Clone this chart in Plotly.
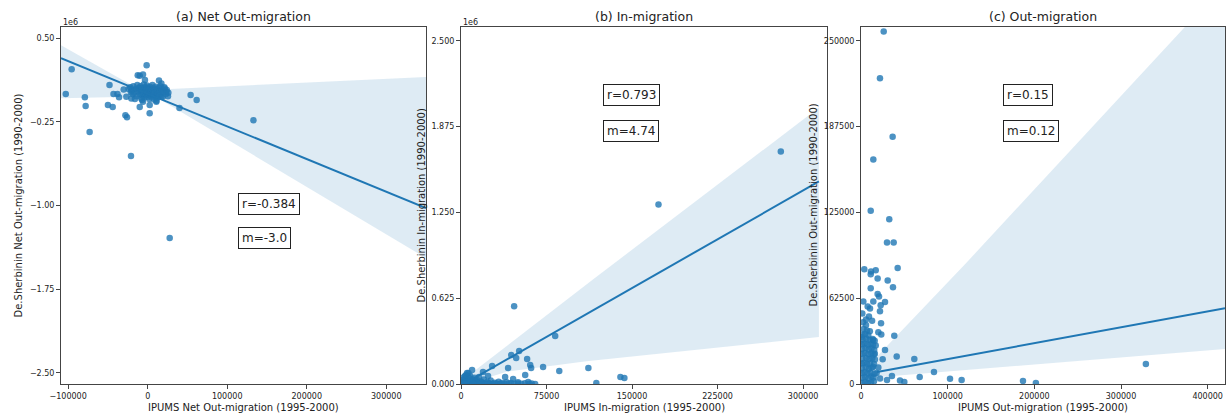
import plotly.graph_objects as go

W, H = 1228, 417
BLUE = '#1f77b4'
FONT = 'DejaVu Sans'
TXT = '#222222'
AX = '#444444'

# ---------------- (a) Net Out-migration ----------------
net_ipums = [
    -103000, -95600, -79000, -78000, -73000, -48000, -50000, -44000, -43000, -38000,
    -36000, -30200, -28000, -26000, -21000, 27700, -12500, -10000, -5900, -1300,
    -3400, -10000, 2500, 2500, 14200, 17200, 21400, 23500, 25500, 40000,
    54000, 61600, 133000, -26800, -20500, -5900, 10900, 17200,
    -22000, -20000, -18000, -17000, -15000, -14000, -13000, -12000, -11000, -10000,
    -10000, -9000, -8000, -8000, -7000, -6000, -6000, -5000, -5000, -4000,
    -4000, -3000, -3000, -2000, -2000, -1000, -1000, 0, 0, 0,
    1000, 1000, 2000, 2000, 3000, 3000, 4000, 4000, 5000, 5000,
    6000, 6000, 7000, 7000, 8000, 8000, 9000, 9000, 10000, 10000,
    11000, 12000, 12000, 13000, 14000, 15000, 15000, 16000, 17000, 18000,
    19000, 20000, 21000, 23000, 24000, -16000, -19000, -21000, -24000, 26000,
    -7000, 11000,
]
net_desherbinin = [
    0, 222000, -29000, -109000, -342000, 79000, -100000, -118000, 0, 0,
    -30000, 40000, -190000, -210000, -557000, -1292000, 168000, 162000, 175000, 258000,
    124000, -118000, -172000, -100000, 121000, 94000, 49000, 19000, -20000, -127000,
    -10000, -55000, -235000, -26000, -40000, -70000, -70000, -26000,
    60000, 30000, 70000, 10000, 45000, -20000, 80000, 25000, 55000, -5000,
    35000, 70000, 10000, -40000, 50000, 25000, -15000, 85000, 0, 40000,
    -30000, 60000, 15000, -10000, 30000, 75000, 45000, 5000, -25000, 20000,
    55000, -5000, 35000, -45000, 10000, 65000, -15000, 25000, 45000, -30000,
    0, 80000, 20000, -10000, 50000, -50000, 30000, 5000, 65000, -20000,
    15000, 40000, -35000, 0, 55000, 25000, -15000, 70000, 5000, 40000,
    -25000, 20000, 60000, 0, 35000, -45000, 0, 15000, 45000, 10000,
    -55000, -60000,
]
net_reg_x = [-109000, 350000]
net_reg_y = [321000, -1023000]
net_ci_upper_x = [-109000, -22600, 21400, 350000]
net_ci_upper_y = [437000, 88000, 43000, 151000]
net_ci_lower_x = [-109000, 8800, 350000]
net_ci_lower_y = [-38000, -20000, -1471000]

# ---------------- (b) In-migration ----------------
in_ipums = [
    280500, 173200, 46600, 82600, 44000, 51000, 48400, 58000, 41300, 60700,
    61500, 72000, 86200, 111700, 56300, 38700, 45700, 139800, 143300, 118700,
    27300, 23700, 19300, 9700, 5300, 15800, 58900, 50000, 8000, 12000,
    3500,
    500, 1000, 1500, 2000, 3000, 3500, 4000, 5000, 5500, 6000,
    7000, 7500, 8500, 9000, 10000, 11000, 12000, 13000, 14000, 15000,
    16500, 17500, 19000, 20000, 21500, 23000, 24500, 26000, 28000, 29500,
    31000, 33000, 34500, 36000, 38000, 40000, 42000, 44000, 47000, 50000,
    53000, 56000, 60000, 62000, 65000, 2500, 4500, 6500, 1200, 3000,
    10500, 18000, 25000,
]
in_desherbinin = [
    1693000, 1308000, 567000, 349000, 211000, 240000, 189000, 182000, 116000, 138000,
    116000, 124000, 94000, 116000, 65000, 51000, 36000, 51000, 44000, 7000,
    131000, 58000, 87000, 102000, 80000, 51000, 15000, 12000, 60000, 45000,
    58000,
    2000, 15000, 30000, 6000, 22000, 40000, 10000, 3000, 28000, 16000,
    45000, 7000, 25000, 2000, 35000, 12000, 4000, 20000, 30000, 8000,
    2000, 18000, 10000, 32000, 3000, 14000, 6000, 25000, 2000, 10000,
    4000, 16000, 2000, 8000, 1000, 12000, 3000, 7000, 1500, 4000,
    2000, 6000, 1000, 3000, 500, 50000, 65000, 80000, 9000, 1000,
    5000, 1000, 2000,
]
in_reg_x = [0, 313900]
in_reg_y = [-12000, 1475000]
in_ci_upper_x = [0, 116000, 313900]
in_ci_upper_y = [20000, 763000, 2013000]
in_ci_lower_x = [0, 40000, 110000, 313900]
in_ci_lower_y = [-15000, 90000, 165000, 342000]

# ---------------- (c) Out-migration ----------------
out_ipums = [
    26200, 21900, 36500, 14200, 11200, 32600, 30000, 37700, 3800, 11500,
    11200, 17000, 42300, 19200, 30800, 36900, 11200, 19200, 20800, 14200,
    2700, 27700, 22700, 7700, 10400, 1500, 9200, 21900, 23100, 5800,
    20000, 23400, 38400, 41200, 61500, 84200, 67700, 102700, 116100, 186900,
    201800, 328700, 27700, 35700, 30000, 45000, 50000, 20000, 25000, 17000,
    14000, 16000, 18000, 22000,
    1000, 4500, 8000, 11500, 15000, 1500, 5000, 8500, 12000, 14500,
    800, 4000, 7500, 11000, 15500, 1200, 5500, 9000, 12500, 14000,
    600, 3500, 7000, 10500, 15000, 1800, 6000, 9500, 13000, 16000,
    900, 4200, 8200, 11800, 14800, 1300, 5200, 8800, 12200, 15200,
    700, 3800, 7200, 10800, 13800, 2000, 6200, 9800, 13500, 15800,
    1100, 4700, 8400, 3000, 6800, 10200, 2400, 5800, 12800, 500,
]
out_desherbinin = [
    256700, 222600, 180000, 163500, 126200, 119900, 103000, 103000, 83600, 81900,
    79900, 82800, 84500, 76800, 75300, 70500, 69800, 65600, 63700, 60100,
    60100, 59800, 57400, 56500, 55000, 51400, 49200, 53000, 44300, 42900,
    37600, 36100, 35100, 20100, 18200, 8700, 5100, 3900, 2900, 2200,
    700, 14500, 24700, 5800, 3000, 2500, 1500, 12000, 18000, 28000,
    32000, 22000, 8000, 4000,
    1000, 1500, 800, 1200, 2000, 4500, 5000, 4000, 5500, 4800,
    8000, 8500, 7800, 8200, 7500, 11500, 12000, 11000, 11800, 12500,
    15000, 15500, 14800, 15200, 14500, 18500, 19000, 18200, 18800, 17800,
    22000, 22500, 21800, 22200, 21500, 25500, 26000, 25200, 25800, 24800,
    29000, 29500, 28800, 29200, 28500, 32500, 33000, 32200, 32800, 31500,
    36000, 36500, 35500, 40000, 39000, 38500, 45000, 47000, 46000, 34000,
]
out_reg_x = [18500, 420000]
out_reg_y = [8700, 55200]
out_ci_upper_x = [18500, 120000, 373700, 420000]
out_ci_upper_y = [20000, 87200, 260000, 291000]
out_ci_lower_x = [18500, 420000]
out_ci_lower_y = [5000, 25400]

# ---------------- axes / labels ----------------
titles = ['(a) Net Out-migration', '(b) In-migration', '(c) Out-migration']
xtitles = ['IPUMS Net Out-migration (1995-2000)', 'IPUMS In-migration (1995-2000)',
           'IPUMS Out-migration (1995-2000)']
ytitles = ['De.Sherbinin Net Out-migration (1990-2000)', 'De.Sherbinin In-migration (1990-2000)',
           'De.Sherbinin Out-migration (1990-2000)']
r_labels = ['r=-0.384', 'r=0.793', 'r=0.15']
m_labels = ['m=-3.0', 'm=4.74', 'm=0.12']

a_xticks = [-100000, 0, 100000, 200000, 300000]
a_xticktext = ['\u2212100000', '0', '100000', '200000', '300000']
a_yticks = [500000, -250000, -1000000, -1750000, -2500000]
a_yticktext = ['0.50', '\u22120.25', '\u22121.00', '\u22121.75', '\u22122.50']
b_xticks = [0, 75000, 150000, 225000, 300000]
b_yticks = [0, 625000, 1250000, 1875000, 2500000]
b_yticktext = ['0.000', '0.625', '1.250', '1.875', '2.500']
c_xticks = [0, 100000, 200000, 300000, 400000]
c_yticks = [0, 62500, 125000, 187500, 250000]

# pixel layout of plot areas
px_x = [(61, 426), (461, 827), (861, 1225)]
px_top, px_bot = 27, 384
xranges = [[-109000, 350000], [0, 321000], [0, 420000]]
yranges = [[-2600000, 600000], [0, 2600000], [0, 260000]]

fig = go.Figure()

panels = [
    (net_ipums, net_desherbinin, net_reg_x, net_reg_y, net_ci_upper_x, net_ci_upper_y, net_ci_lower_x, net_ci_lower_y),
    (in_ipums, in_desherbinin, in_reg_x, in_reg_y, in_ci_upper_x, in_ci_upper_y, in_ci_lower_x, in_ci_lower_y),
    (out_ipums, out_desherbinin, out_reg_x, out_reg_y, out_ci_upper_x, out_ci_upper_y, out_ci_lower_x, out_ci_lower_y),
]

for i, (sx, sy, rx, ry, ux, uy, lx, ly) in enumerate(panels):
    xa = 'x' if i == 0 else f'x{i+1}'
    ya = 'y' if i == 0 else f'y{i+1}'
    fig.add_trace(go.Scatter(x=sx, y=sy, mode='markers', xaxis=xa, yaxis=ya,
                             marker=dict(color=BLUE, size=6.5, opacity=0.8, line=dict(width=0)),
                             showlegend=False, hoverinfo='skip'))
    fig.add_trace(go.Scatter(x=ux + lx[::-1], y=uy + ly[::-1], mode='lines', fill='toself',
                             fillcolor='rgba(31,119,180,0.15)', line=dict(width=0),
                             xaxis=xa, yaxis=ya, showlegend=False, hoverinfo='skip'))
    fig.add_trace(go.Scatter(x=rx, y=ry, mode='lines', line=dict(color=BLUE, width=2),
                             xaxis=xa, yaxis=ya, showlegend=False, hoverinfo='skip'))

common = dict(showgrid=False, zeroline=False, showline=True, linecolor=AX, linewidth=1,
              mirror=True, ticks='outside', ticklen=4, tickwidth=1, tickcolor=AX,
              automargin=False,
              tickfont=dict(family=FONT, size=8, color=TXT))

ydom = [1 - px_bot / H, 1 - px_top / H]
layout = dict(width=W, height=H, margin=dict(l=0, r=0, t=0, b=0, autoexpand=False),
              paper_bgcolor='white', plot_bgcolor='white',
              font=dict(family=FONT, color=TXT), showlegend=False)

xtick_specs = [(a_xticks, a_xticktext), (b_xticks, [str(v) for v in b_xticks]),
               (c_xticks, [str(v) for v in c_xticks])]
ytick_specs = [(a_yticks, a_yticktext), (b_yticks, b_yticktext),
               (c_yticks, [str(v) for v in c_yticks])]

for i in range(3):
    xk = 'xaxis' if i == 0 else f'xaxis{i+1}'
    yk = 'yaxis' if i == 0 else f'yaxis{i+1}'
    ya = 'y' if i == 0 else f'y{i+1}'
    xa = 'x' if i == 0 else f'x{i+1}'
    layout[xk] = dict(common, domain=[px_x[i][0] / W, px_x[i][1] / W], range=xranges[i],
                      anchor=ya, tickmode='array', tickvals=xtick_specs[i][0],
                      ticktext=xtick_specs[i][1])
    layout[yk] = dict(common, domain=ydom, range=yranges[i], anchor=xa,
                      tickmode='array', tickvals=ytick_specs[i][0], ticktext=ytick_specs[i][1])

fig.update_layout(**layout)

ann = []
ycen_paper = 1 - ((px_top + px_bot) / 2) / H
ytitle_px = [18, 421, 813]
box_left = [238, 603, 1003]
r_y = [203.5, 94.5, 94.5]
m_y = [238, 131, 131]
for i in range(3):
    cx = (px_x[i][0] + px_x[i][1]) / 2 / W
    ann.append(dict(text=titles[i], x=cx, y=1 - 17 / H, xref='paper', yref='paper',
                    xanchor='center', yanchor='middle', showarrow=False,
                    font=dict(family=FONT, size=12.5, color=TXT)))
    ann.append(dict(text=xtitles[i], x=cx, y=1 - 407 / H, xref='paper', yref='paper',
                    xanchor='center', yanchor='middle', showarrow=False,
                    font=dict(family=FONT, size=10, color=TXT)))
    ann.append(dict(text=ytitles[i], x=ytitle_px[i] / W, y=ycen_paper, xref='paper', yref='paper',
                    xanchor='center', yanchor='middle', showarrow=False, textangle=-90,
                    font=dict(family=FONT, size=10, color=TXT)))
    for lab, yy in ((r_labels[i], r_y[i]), (m_labels[i], m_y[i])):
        ann.append(dict(text=lab, x=box_left[i] / W, y=1 - yy / H, xref='paper', yref='paper',
                        xanchor='left', yanchor='middle', showarrow=False,
                        bordercolor='#222222', borderwidth=1, borderpad=3, bgcolor='white',
                        font=dict(family=FONT, size=12, color=TXT)))
for i in range(2):
    ann.append(dict(text='1e6', x=px_x[i][0] / W, y=1 - 22 / H, xref='paper', yref='paper',
                    xanchor='left', yanchor='middle', showarrow=False,
                    font=dict(family=FONT, size=8, color=TXT)))

fig.update_layout(annotations=ann)
fig.write_html('out.html')
